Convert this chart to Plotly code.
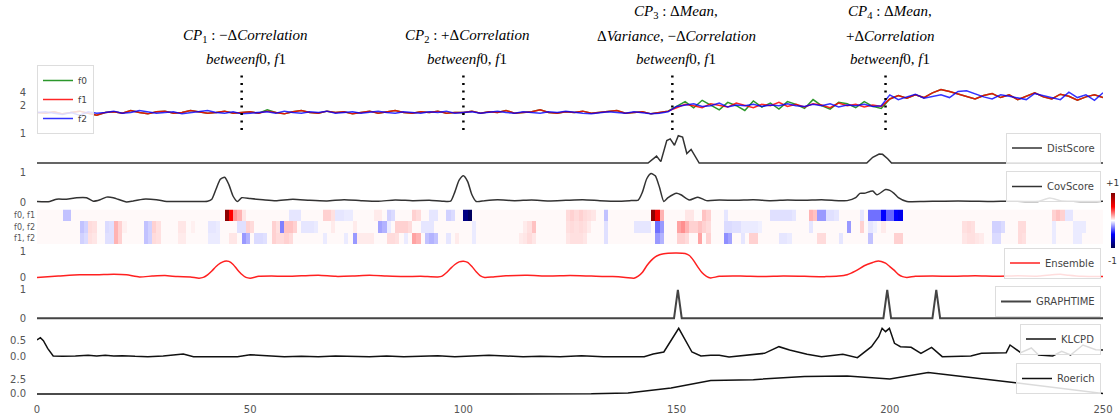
import plotly.graph_objects as go

W, H = 1119, 419

# ---------------- data ----------------
x_series = list(range(0, 251, 2))

f1 = [1.0, 0.9, 1.1, 0.8, 1.0, 1.2, 0.9, 0.6, 1.0, 1.1, 0.9, 1.3, 1.0, 0.8, 1.1, 1.2, 0.9, 1.0, 1.3, 1.1, 0.9, 1.0, 1.2, 0.9, 1.0,
      1.1, 0.9, 1.2, 1.0, 0.8, 1.1, 1.3, 1.0, 0.9, 1.2, 1.0, 1.1, 0.8, 1.0, 1.2, 0.9, 1.1, 1.3, 1.0, 0.9, 1.1, 1.0, 1.2, 0.9, 1.0,
      1.0, 1.2, 0.9, 1.1, 1.0, 1.3, 0.9, 1.0, 1.1, 1.4, 1.0, 0.9, 1.1, 1.0, 1.2, 0.9, 1.0, 1.1, 1.3, 0.9, 1.0, 1.1, 0.8, 1.0, 1.2,
      1.7, 2.2, 2.0, 1.7, 2.3, 2.0, 1.8, 2.4, 2.1, 1.7, 2.2, 2.0, 2.5, 1.9, 2.2, 1.8, 2.3, 2.1, 1.7, 2.4, 2.0, 2.2, 1.8, 2.1, 1.9,
      3.0, 3.5, 3.1, 3.6, 3.2, 3.9, 4.4, 4.1, 3.7, 3.3, 3.0, 3.5, 3.8, 3.2, 3.6, 2.9, 3.4, 3.9, 3.3, 3.0, 3.7, 3.4, 2.8, 3.3, 3.6, 3.2]

f0 = [1.0, 0.9, 1.1, 0.8, 1.0, 1.2, 0.9, 0.6, 1.0, 1.1, 0.9, 1.3, 1.0, 0.8, 1.1, 1.2, 0.9, 1.0, 1.3, 1.1, 0.9, 1.0, 1.2, 0.9, 1.0,
      1.1, 0.9, 1.4, 1.0, 0.8, 1.1, 1.3, 1.0, 0.9, 1.2, 1.0, 1.1, 0.8, 1.0, 1.2, 0.9, 1.1, 1.3, 1.0, 0.9, 1.1, 1.0, 1.2, 0.9, 1.0,
      1.0, 1.2, 0.9, 1.1, 1.0, 1.3, 0.9, 1.0, 1.1, 1.4, 1.0, 0.9, 1.1, 1.0, 1.2, 0.9, 1.0, 1.1, 1.3, 0.9, 1.0, 1.1, 0.8, 1.0, 1.2,
      1.9, 2.6, 1.7, 2.8, 2.1, 1.4, 2.5, 2.0, 1.3, 2.7, 1.8, 2.4, 1.5, 2.6, 2.2, 1.6, 2.9, 2.0, 1.5, 2.5, 2.3, 1.7, 2.6, 1.9, 1.6,
      3.0, 3.5, 3.1, 3.6, 3.2, 3.9, 4.4, 4.1, 3.7, 3.3, 3.0, 3.5, 3.8, 3.2, 3.6, 2.9, 3.4, 3.9, 3.3, 3.0, 3.7, 3.4, 2.8, 3.3, 3.6, 3.2]

f2 = [1.0, 1.1, 0.9, 0.7, 1.0, 0.6, 1.1, 0.9, 1.0, 1.2, 0.9, 1.0, 1.3, 1.1, 0.9, 1.0, 1.1, 0.8, 1.0, 1.2, 1.3, 1.0, 0.9, 1.1, 0.8,
      0.9, 1.0, 1.1, 0.9, 1.2, 1.0, 0.9, 1.1, 1.0, 1.2, 0.9, 1.0, 1.1, 0.9, 1.0, 1.2, 1.0, 0.9, 1.1, 1.0, 0.9, 1.1, 1.0, 1.2, 0.9,
      1.0, 1.1, 0.9, 1.0, 1.2, 1.0, 0.9, 1.1, 1.0, 0.9, 1.1, 1.0, 1.2, 1.0, 0.9, 0.8, 1.0, 1.1, 1.0, 0.9, 1.1, 1.0, 0.8, 0.9, 1.1,
      1.9, 2.1, 2.3, 1.9, 2.0, 2.4, 1.8, 2.1, 2.0, 2.2, 1.9, 2.1, 2.0, 2.3, 2.0, 1.9, 2.2, 2.0, 2.3, 1.8, 2.1, 2.0, 2.2, 1.9, 2.0,
      3.6, 2.9, 3.3, 3.7, 3.1, 3.4, 3.6, 3.2, 4.1, 4.2, 3.7, 3.3, 3.0, 3.6, 3.4, 3.2, 2.9, 3.8, 3.5, 3.2, 2.9, 4.0, 3.2, 3.6, 2.8, 3.9]

change_points = [48, 100, 149, 199]
cp_notes = [
    ["<i>CP</i><sub>1</sub> : −Δ<i>Correlation</i>", "<i>betweenf</i>0, <i>f</i>1"],
    ["<i>CP</i><sub>2</sub> : +Δ<i>Correlation</i>", "<i>betweenf</i>0, <i>f</i>1"],
    ["<i>CP</i><sub>3</sub> : Δ<i>Mean</i>,", "Δ<i>Variance</i>, −Δ<i>Correlation</i>", "<i>betweenf</i>0, <i>f</i>1"],
    ["<i>CP</i><sub>4</sub> : Δ<i>Mean</i>,", "+Δ<i>Correlation</i>", "<i>betweenf</i>0, <i>f</i>1"],
]

dist_x = [0, 143.3, 145.3, 146.3, 147.7, 148.5, 149.5, 150.4, 151.4, 152.4, 153.4, 155.3, 194.6, 196, 197.5, 198.3, 199.5, 200.4, 250]
dist_y = [0, 0, 0.24, 0.05, 0.77, 0.83, 0.61, 0.94, 0.89, 0.33, 0.47, 0, 0, 0.2, 0.31, 0.3, 0.15, 0, 0]

cov_x = [0, 3, 4.6, 6.9, 9.3, 11.6, 13.2, 14.8, 16.3, 17.9, 21, 22.6, 24.9, 28, 30.4, 34, 37, 40, 41, 42,
         43, 44, 45, 46, 47, 48, 50, 53, 56, 60, 64, 68, 72, 76, 80, 84, 88, 92, 95, 97,
         98, 99, 100, 101, 102, 103, 105, 108, 112, 116, 120, 124, 128, 132, 136, 139, 141, 142, 143, 144,
         145, 146, 147, 148, 150, 151, 153, 155, 157, 160, 164, 168, 172, 176, 180, 184, 188, 190, 192, 193,
         194, 196, 197, 199, 200, 201, 202, 204, 208, 212, 216, 220, 224, 228, 232, 235, 237.5, 240, 243, 246, 250]
cov_y = [0.02, 0.02, 0.1, 0.1, 0.15, 0.15, 0.03, 0.08, 0.17, 0.15, 0.0, 0.04, 0.1, 0.08, 0.02, 0.02, 0.02, 0.03, 0.1, 0.45,
         0.78, 0.85, 0.6, 0.2, 0.02, 0.15, 0.12, 0.08, 0.05, 0.1, 0.06, 0.04, 0.08, 0.05, 0.03, 0.07, 0.05, 0.06, 0.03, 0.03,
         0.35, 0.75, 0.9, 0.7, 0.25, 0.02, 0.05, 0.08, 0.05, 0.07, 0.04, 0.06, 0.08, 0.05, 0.03, 0.05, 0.07, 0.35, 0.8, 0.98,
         0.9, 0.5, 0.02, 0.15, 0.3, 0.25, 0.07, 0.17, 0.05, 0.07, 0.06, 0.08, 0.05, 0.07, 0.06, 0.08, 0.05, 0.05, 0.15, 0.3,
         0.3, 0.38, 0.25, 0.43, 0.4, 0.3, 0.15, 0.02, 0.02, 0.03, 0.04, 0.03, 0.02, 0.03, 0.02, 0.03, 0.14, 0.05, 0.03, 0.02, 0.03]

heat_rows = ["f0, f1", "f0, f2", "f1, f2"]
heat_columns = 250
heat_background = 0.012
heat_f0f1 = {6: -0.12, 7: -0.12, 44: 0.95, 45: 0.5, 46: 0.2, 47: 0.15, 48: 0.05, 59: -0.05, 60: -0.05, 61: -0.05,
             67: 0.09, 68: 0.09, 69: 0.06, 70: -0.05, 71: -0.05, 72: -0.04, 73: -0.04, 79: 0.04, 80: 0.04,
             82: -0.09, 83: -0.07, 88: 0.09, 89: 0.07, 92: -0.05, 93: -0.05, 96: -0.09, 97: -0.07,
             100: -0.85, 101: -0.95, 124: 0.07, 125: 0.09, 126: 0.07, 127: 0.09, 128: 0.07, 129: 0.06, 130: 0.05,
             133: -0.12, 144: 0.95, 145: 0.55, 146: 0.15, 152: 0.05, 153: 0.05, 156: 0.12, 157: 0.09, 161: -0.05,
             172: -0.06, 173: -0.06, 174: -0.06, 175: -0.06, 176: -0.06, 177: -0.05, 181: 0.15, 182: 0.12,
             183: -0.2, 184: -0.2, 185: -0.06, 186: -0.06, 187: -0.05, 193: -0.05, 195: -0.28, 196: -0.28,
             197: -0.28, 198: -0.5, 199: -0.3, 200: -0.3, 201: -0.5, 202: -0.55, 238: 0.09, 239: 0.12,
             240: 0.09, 241: -0.05, 242: -0.05}
heat_f0f2 = {10: -0.12, 11: -0.09, 12: 0.07, 13: 0.06, 16: -0.07, 17: -0.06, 18: 0.15, 19: 0.09, 20: 0.03,
             25: -0.12, 26: -0.09, 27: 0.09, 28: 0.06, 33: 0.05, 34: 0.05, 36: 0.03, 40: -0.05, 41: -0.05,
             42: -0.04, 47: -0.06, 48: -0.06, 49: 0.09, 50: 0.07, 55: 0.09, 56: 0.06, 57: -0.25, 58: 0.12,
             59: 0.12, 60: 0.09, 62: -0.05, 63: -0.05, 64: -0.05, 65: -0.04, 69: 0.04, 74: 0.04, 80: -0.18,
             81: -0.15, 82: -0.04, 84: 0.09, 85: 0.09, 86: 0.09, 87: 0.07, 90: -0.05, 91: -0.05, 92: -0.05,
             102: -0.04, 114: 0.04, 115: 0.06, 116: 0.12, 124: 0.06, 125: 0.07, 126: 0.06, 127: 0.07, 128: 0.06,
             129: 0.04, 133: -0.06, 140: -0.05, 141: -0.05, 142: -0.05, 143: -0.05, 145: -0.28, 146: -0.2,
             150: 0.18, 151: 0.22, 152: 0.15, 153: 0.09, 154: 0.09, 155: 0.12, 156: 0.09, 157: 0.07,
             161: -0.07, 162: -0.07, 163: -0.06, 164: -0.06, 165: -0.04, 166: -0.04, 167: -0.04, 168: -0.04,
             169: -0.03, 181: -0.05, 190: -0.2, 193: 0.09, 195: -0.05, 196: -0.03, 198: 0.04, 217: 0.06,
             218: 0.07, 219: 0.06, 224: -0.09, 225: -0.09, 226: -0.07, 230: 0.07, 231: 0.07, 238: -0.04,
             243: -0.04, 244: -0.04, 245: -0.04}
heat_f1f2 = {10: -0.09, 11: -0.07, 12: 0.06, 13: 0.05, 16: -0.06, 17: -0.06, 18: 0.15, 19: 0.09, 25: -0.12,
             26: -0.09, 27: 0.07, 28: 0.06, 33: 0.04, 34: 0.04, 40: -0.04, 41: -0.04, 42: -0.04, 45: 0.05,
             46: 0.05, 48: -0.2, 49: -0.15, 51: -0.07, 52: -0.07, 53: -0.06, 55: 0.09, 56: 0.07, 57: 0.07,
             58: 0.09, 59: 0.07, 67: -0.04, 72: -0.04, 74: -0.2, 75: 0.04, 76: 0.04, 77: 0.04, 78: 0.04,
             82: 0.07, 83: 0.07, 84: 0.06, 86: -0.04, 88: 0.18, 89: 0.15, 91: -0.12, 92: -0.15, 93: -0.12,
             96: -0.05, 98: 0.04, 102: -0.04, 113: 0.04, 114: 0.05, 115: 0.07, 116: 0.05, 124: 0.05,
             125: 0.06, 126: 0.06, 127: 0.06, 128: 0.05, 133: -0.06, 145: -0.2, 146: -0.15, 150: 0.09,
             151: 0.09, 152: 0.07, 155: 0.18, 157: 0.09, 161: -0.22, 162: -0.18, 165: -0.05, 167: 0.09,
             168: 0.09, 174: -0.05, 175: -0.05, 176: -0.04, 183: 0.07, 184: 0.07, 188: -0.05, 195: -0.12,
             201: 0.09, 202: 0.09, 217: 0.05, 218: 0.06, 219: 0.06, 220: 0.05, 221: 0.04, 224: -0.07,
             225: -0.07, 230: 0.07, 231: 0.06, 238: -0.04, 243: -0.04, 244: -0.04}

ens_x = [0, 5, 10, 14, 18, 21, 24, 27, 30, 33, 36, 38, 39, 40, 41, 42, 43, 44, 45, 46,
         47, 48, 49, 50, 52, 55, 58, 62, 66, 70, 74, 78, 82, 86, 90, 94, 95, 96, 97, 98,
         99, 100, 101, 102, 103, 104, 105, 107, 110, 115, 120, 125, 130, 135, 138, 140, 141, 142, 143, 144,
         145, 146, 147, 148, 150, 152, 153, 154, 155, 156, 157, 158, 160, 165, 170, 175, 180, 185, 188, 190,
         192, 194, 196, 197, 198, 199, 200, 201, 202, 203, 204, 206, 210, 215, 220, 225, 230, 235, 238, 240,
         242, 245, 250]
ens_y = [0.0, 0.05, 0.1, 0.1, 0.12, 0.1, 0.02, 0.05, 0.07, 0.03, 0.02, -0.03, 0.0, 0.1, 0.25, 0.42, 0.55, 0.63, 0.62, 0.5,
         0.3, 0.12, 0.0, -0.03, 0.04, 0.05, 0.04, 0.06, 0.08, 0.04, 0.05, 0.08, 0.05, 0.03, 0.04, 0.02, 0.05, 0.18, 0.35, 0.5,
         0.6, 0.63, 0.58, 0.42, 0.22, 0.06, 0.0, 0.02, 0.06, 0.08, 0.05, 0.07, 0.05, 0.03, 0.0, -0.03, 0.05, 0.2, 0.45, 0.65,
         0.8, 0.88, 0.92, 0.94, 0.95, 0.93, 0.85, 0.65, 0.4, 0.18, 0.04, -0.02, 0.04, 0.05, 0.03, 0.05, 0.04, 0.03, 0.05, 0.1,
         0.25, 0.45, 0.58, 0.63, 0.62, 0.55, 0.42, 0.28, 0.12, 0.03, 0.0, 0.04, 0.05, 0.04, 0.06, 0.04, 0.06, 0.05, 0.1, 0.12,
         0.08, 0.04, 0.03]

graph_x = [0, 149.4, 150.3, 151.2, 198.5, 199.4, 200.3, 210, 210.9, 211.8, 250]
graph_y = [0, 0, 1, 0, 0, 1, 0, 0, 1, 0, 0]

klcpd_x = [0, 0.8, 1.5, 2.5, 3.8, 6, 9, 12, 14, 16, 18, 20, 23, 26, 29.6, 32, 34.3, 36.7, 40, 44,
           47, 50, 52, 54, 58, 62, 66, 70, 74, 78, 82, 86, 90, 94, 98, 102, 106, 110, 114, 118,
           122.7, 127.7, 132.8, 142.4, 144.5, 147, 150.5, 153.6, 155.7, 158, 160, 162.3, 165, 168, 170.6, 174, 176.5, 180.6, 184, 189,
           192.4, 195.7, 197.4, 198.2, 199, 199.9, 201.1, 202.5, 205, 207.3, 209.8, 212.3, 216, 219, 221.5, 224, 227.3, 228.2, 230.7, 233.2,
           234.9, 238.2, 240.3, 242.4, 245.3, 248.3, 250]
klcpd_y = [0.5, 0.57, 0.48, 0.25, 0.02, 0.01, 0.02, 0.04, 0.02, 0.04, 0.02, 0.03, 0.01, 0.0, 0.02, 0.04, 0.08, 0.0, 0.0, 0.01,
           0.0, 0.06, 0.05, 0.02, 0.0, 0.01, 0.0, 0.02, 0.01, 0.0, 0.02, 0.0, 0.01, 0.03, 0.0, 0.02, 0.04, 0.02, 0.0, 0.01,
           0.0, 0.03, 0.0, 0.0, 0.08, 0.14, 0.85, 0.14, 0.02, 0.04, 0.04, -0.01, 0.03, 0.07, 0.1, 0.3, 0.2, 0.07, 0.0, 0.07,
           -0.03, 0.3, 0.6, 0.85, 0.75, 0.85, 0.4, 0.3, 0.28, 0.1, 0.28, 0.0, 0.01, 0.02, 0.1, 0.1, 0.12, 0.35, 0.12, 0.26,
           0.05, 0.02, 0.16, 0.05, 0.35, 0.21, 0.2]

roerich_x = [0, 30, 60, 90, 122, 130, 138.6, 148.7, 158, 168, 180, 190, 200, 209, 230, 250]
roerich_y = [0.0, -0.02, -0.05, -0.03, 0.0, 0.02, 0.17, 1.0, 2.26, 2.39, 2.93, 3.0, 2.51, 3.6, 1.84, 0.08]

x_ticks = [0, 50, 100, 150, 200, 250]


# ---------------- helpers ----------------
def fx(p):
    return p / W


def fy(p):
    return 1 - p / H


seismic = [[0.0, "rgb(0,0,77)"], [0.25, "rgb(0,0,255)"], [0.5, "rgb(255,255,255)"],
           [0.75, "rgb(255,0,0)"], [1.0, "rgb(128,0,0)"]]

fig = go.Figure()

for name, vals, col in [("f0", f0, "rgba(20,140,20,0.9)"), ("f1", f1, "rgba(255,0,0,0.85)"),
                        ("f2", f2, "rgba(0,0,255,0.8)")]:
    fig.add_trace(go.Scatter(x=x_series, y=vals, mode="lines", name=name, line=dict(color=col, width=1.5),
                             xaxis="x", yaxis="y", legend="legend"))

fig.add_trace(go.Scatter(x=dist_x, y=dist_y, mode="lines", name="DistScore", line=dict(color="#333333", width=1.5),
                         xaxis="x2", yaxis="y2", legend="legend2"))
fig.add_trace(go.Scatter(x=cov_x, y=cov_y, mode="lines", name="CovScore",
                         line=dict(color="#333333", width=1.5, shape="spline", smoothing=0.6),
                         xaxis="x3", yaxis="y3", legend="legend3"))

z = []
for row in (heat_f0f1, heat_f0f2, heat_f1f2):
    vals = [heat_background] * heat_columns
    for k, v in row.items():
        vals[k] = v
    z.append(vals)
fig.add_trace(go.Heatmap(z=z, x0=0.5, dx=1, y=heat_rows, colorscale=seismic, zmin=-1, zmax=1,
                         xaxis="x4", yaxis="y4", showscale=True,
                         colorbar=dict(x=fx(1111), xanchor="left", y=fy(220.5), yanchor="middle",
                                       len=55 / H, lenmode="fraction", thickness=4, thicknessmode="pixels",
                                       outlinewidth=0, showticklabels=False, ticks="", xpad=0, ypad=0)))

fig.add_trace(go.Scatter(x=ens_x, y=ens_y, mode="lines", name="Ensemble",
                         line=dict(color="#ff2020", width=1.5, shape="spline", smoothing=0.6),
                         xaxis="x5", yaxis="y5", legend="legend4"))
fig.add_trace(go.Scatter(x=graph_x, y=graph_y, mode="lines", name="GRAPHTIME", line=dict(color="#444444", width=2),
                         xaxis="x6", yaxis="y6", legend="legend5"))
fig.add_trace(go.Scatter(x=klcpd_x, y=klcpd_y, mode="lines", name="KLCPD", line=dict(color="#111111", width=1.5),
                         xaxis="x7", yaxis="y7", legend="legend6"))
fig.add_trace(go.Scatter(x=roerich_x, y=roerich_y, mode="lines", name="Roerich", line=dict(color="#111111", width=1.5),
                         xaxis="x8", yaxis="y8", legend="legend7"))

panels = [
    dict(top=84, bottom=122, rng=[-0.4, 5.2], tv=[2, 4], tt=["2", "4"]),
    dict(top=131, bottom=166, rng=[-0.1, 1.1], tv=[1], tt=["1"]),
    dict(top=170, bottom=205, rng=[-0.1, 1.1], tv=[0, 1], tt=["0", "1"]),
    dict(top=209.5, bottom=244, rng=None, tv=None, tt=None),
    dict(top=248, bottom=281, rng=[-0.14, 1.14], tv=[0, 1], tt=["0", "1"]),
    dict(top=287, bottom=321, rng=[-0.1, 1.1], tv=[0, 1], tt=["0", "1"]),
    dict(top=325, bottom=361, rng=[-0.13, 0.95], tv=[0, 0.5], tt=["0.0", "0.5"]),
    dict(top=366, bottom=398, rng=[-0.67, 4.67], tv=[0, 2.5], tt=["0.0", "2.5"]),
]

layout = {}
for i, p in enumerate(panels, start=1):
    xn = "xaxis" if i == 1 else f"xaxis{i}"
    yn = "yaxis" if i == 1 else f"yaxis{i}"
    layout[xn] = dict(domain=[fx(37), fx(1103)], range=[0, 250], showgrid=False, zeroline=False,
                      showline=False, showticklabels=(i == 8), tickvals=x_ticks, ticks="",
                      anchor=("y" if i == 1 else f"y{i}"), ticklabelstandoff=4,
                      tickfont=dict(size=10, color="#555555"))
    yd = dict(domain=[fy(p["bottom"]), fy(p["top"])], showgrid=False, zeroline=False, showline=False,
              ticks="", anchor=("x" if i == 1 else f"x{i}"))
    if p["rng"] is not None:
        yd.update(range=p["rng"], tickvals=p["tv"], ticktext=p["tt"], ticklabelstandoff=10,
                  tickfont=dict(size=10, color="#555555"))
    else:
        yd.update(range=[2.5, -0.5], type="category", ticklabelstandoff=1,
                  tickfont=dict(size=8, color="#555555"))
    layout[yn] = yd

leg_common = dict(bgcolor="rgba(255,255,255,0.85)", bordercolor="#dddddd", borderwidth=1, itemwidth=30)
layout["legend"] = dict(x=fx(37), y=fy(65), xanchor="left", yanchor="top",
                        font=dict(size=9, color="#444444", family="DejaVu Sans"), **leg_common)
for key, yc in [("legend2", 148), ("legend3", 186.5), ("legend4", 263), ("legend5", 301.5),
                ("legend6", 339), ("legend7", 378.5)]:
    layout[key] = dict(x=fx(1101), y=fy(yc), xanchor="right", yanchor="middle",
                       font=dict(size=10, color="#444444", family="DejaVu Sans"), **leg_common)

shapes = []
for cp in change_points:
    shapes.append(dict(type="line", xref="x", yref="paper", x0=cp, x1=cp, y0=fy(130), y1=fy(74),
                       line=dict(color="black", width=2.5, dash="2px,5.5px")))

annotations = []
line_ys = [59, 35.5, 12]
for cp, lines in zip(change_points, cp_notes):
    for j, txt in enumerate(reversed(lines)):
        annotations.append(dict(x=cp, xref="x", y=fy(line_ys[j]), yref="paper", text=txt, showarrow=False,
                                xanchor="center", yanchor="middle", xshift=4,
                                font=dict(family="Liberation Serif", size=15, color="black")))
annotations.append(dict(x=fx(1112), y=fy(183), xref="paper", yref="paper", text="+1", showarrow=False,
                        xanchor="center", yanchor="middle", font=dict(size=9, color="#333333")))
annotations.append(dict(x=fx(1112), y=fy(261), xref="paper", yref="paper", text="-1", showarrow=False,
                        xanchor="center", yanchor="middle", font=dict(size=9, color="#333333")))

fig.update_layout(width=W, height=H, autosize=False,
                  margin=dict(l=0, r=0, t=0, b=0, pad=0, autoexpand=False),
                  paper_bgcolor="white", plot_bgcolor="white",
                  font=dict(family="DejaVu Sans", size=10, color="#555555"),
                  shapes=shapes, annotations=annotations, **layout)

fig.write_html("out.html", config={"displayModeBar": False},
               post_script="document.body.style.margin='0';document.body.style.overflow='hidden';")
